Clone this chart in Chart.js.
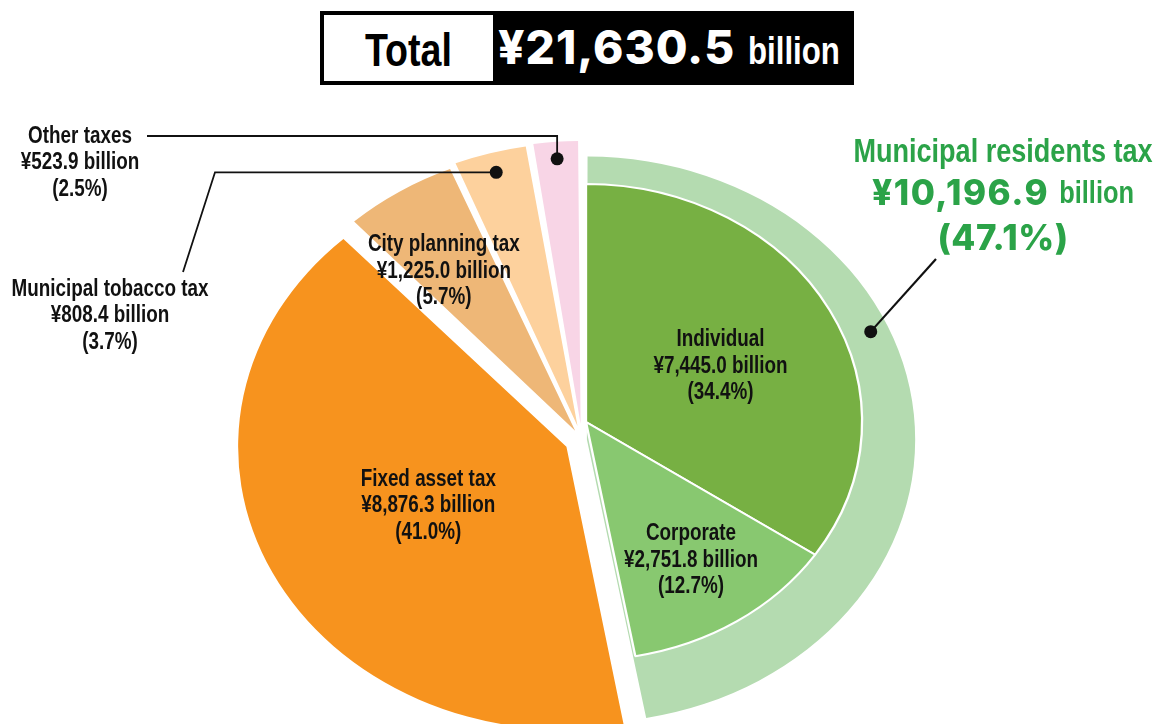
<!DOCTYPE html>
<html>
<head>
<meta charset="utf-8">
<script src="https://cdn.jsdelivr.net/npm/chart.js@4.4.1/dist/chart.umd.min.js"></script>
<style>
  body { margin: 0; background: #fff; }
  #wrap { position: relative; width: 1161px; height: 724px; }
  #total {
    position: absolute; left: 320px; top: 11px; width: 534px; height: 74px;
    border: 4px solid #000; box-sizing: border-box; display: flex; z-index: 2; overflow: hidden;
  }
  #total .label {
    flex: 0 0 169px; background: #fff; color: #000; text-align: center;
    font: bold 47px "Liberation Sans", Arial, sans-serif; line-height: 70px;
  }
  #total .value {
    flex: 1 1 auto; min-width: 0; background: #000; color: #fff; text-align: left;
    padding: 4px 0 0 5px; line-height: 75px; white-space: nowrap;
  }
  .narrow { display: inline-block; transform: scaleX(0.8); }
  #total .num { font: 800 46px Inter, "Open Sans", sans-serif; letter-spacing: 1px; }
  #total .unit { font: bold 39px "Liberation Sans", Arial, sans-serif; transform-origin: left center; margin-left: 13px; }
</style>
</head>
<body>
<div id="wrap">
  <canvas id="taxChart"></canvas>
  <div id="total"><div class="label"><span class="narrow">Total</span></div><div class="value"><span class="num" id="totalNum"></span><span class="unit narrow">billion</span></div></div>
</div>
<script>
// values in billions of yen
const taxNames = ['Municipal residents tax', 'Fixed asset tax', 'City planning tax', 'Municipal tobacco tax', 'Other taxes'];
const taxValues = [10196.9, 8876.3, 1225.0, 808.4, 523.9];
const taxPercents = [47.1, 41.0, 5.7, 3.7, 2.5];

const residentNames = ['Individual', 'Corporate'];
const residentValues = [7445.0, 2751.8];
const residentPercents = [34.4, 12.7];

const taxColors = ['#b4dbb0', '#f7931e', '#eeb777', '#fdd19d', '#f8d5e6'];
const residentColors = ['#77b043', '#88c870'];
const taxOffsets = [17, 60, 44, 58, 64];

const SANS = '"Liberation Sans", Arial, sans-serif';
const HEAVY = 'Inter, "Open Sans", sans-serif';
const GREEN = '#2ba348';
const NARROW_X = 0.82;    // squeeze for the condensed look

const SX = 1.16;          // horizontal stretch of the pie
const PIE_R = 283;
const INNER_R = 238;
const innerShift = [4, -18];

const fmtMoney = v => '¥' + v.toLocaleString('en-US', {minimumFractionDigits: 1, maximumFractionDigits: 1});
const fmtPct = p => '(' + p.toFixed(1) + '%)';

const total = taxValues.reduce((a, b) => a + b, 0);
document.getElementById('totalNum').textContent = fmtMoney(total);

function shiftFor(index) {
  return index === 0 ? innerShift : [0, 0];
}

// stretch the pie into an ellipse, let the inner ring be a full pie drawn on top
const pieShape = {
  id: 'pieShape',
  afterDatasetUpdate(chart, args) {
    const r = args.index === 0 ? INNER_R : PIE_R;
    args.meta.data.forEach(arc => {
      const t = (arc.options.offset || 0) / 4;
      const fix = 1 - Math.sin(Math.min(Math.PI, arc.circumference));
      arc.innerRadius = 0;
      arc.outerRadius = r - t * fix;
    });
  },
  beforeDatasetDraw(chart, args) {
    const {x, y} = args.meta.data[0];
    const [dx, dy] = shiftFor(args.index);
    const ctx = chart.ctx;
    ctx.save();
    ctx.translate(x + dx, y + dy);
    ctx.scale(SX, 1);
    ctx.translate(-x, -y);
  },
  afterDatasetDraw(chart) {
    chart.ctx.restore();
  }
};

function arcPoint(chart, dsIndex, i, angleFrac, radius) {
  const arc = chart.getDatasetMeta(dsIndex).data[i];
  const t = (arc.options.offset || 0) / 4;
  const mid = (arc.startAngle + arc.endAngle) / 2;
  const a = arc.startAngle + angleFrac * (arc.endAngle - arc.startAngle);
  const px = Math.cos(mid) * t + Math.cos(a) * radius;
  const py = Math.sin(mid) * t + Math.sin(a) * radius;
  const [dx, dy] = shiftFor(dsIndex);
  return {x: arc.x + dx + SX * px, y: arc.y + dy + py};
}

// condensed text: squeeze horizontally around the anchor
function condText(ctx, s, x, y) {
  ctx.save();
  ctx.translate(x, y);
  ctx.scale(NARROW_X, 1);
  ctx.fillText(s, 0, 0);
  ctx.restore();
}

function drawBlock(ctx, lines, x, y, lh) {
  ctx.fillStyle = '#111';
  ctx.font = 'bold 23px ' + SANS;
  ctx.textAlign = 'center';
  ctx.textBaseline = 'middle';
  lines.forEach((s, k) => condText(ctx, s, x, y + (k - 1) * lh));
}

const labels = {
  id: 'labels',
  afterDraw(chart) {
    const ctx = chart.ctx;
    ctx.save();

    // labels inside the slices
    const inside = [
      [0, 0, residentNames[0], residentValues[0], residentPercents[0], 0.52, 0.54 * INNER_R],
      [0, 1, residentNames[1], residentValues[1], residentPercents[1], 0.5, 0.695 * INNER_R],
      [1, 1, taxNames[1], taxValues[1], taxPercents[1], 0.5, 0.47 * PIE_R],
      [1, 2, taxNames[2], taxValues[2], taxPercents[2], 0.35, 0.69 * PIE_R]
    ];
    inside.forEach(([ds, i, name, v, p, af, r]) => {
      const c = arcPoint(chart, ds, i, af, r);
      drawBlock(ctx, [name, fmtMoney(v) + ' billion', fmtPct(p)], c.x, c.y, 26.5);
    });

    // callouts
    ctx.strokeStyle = '#111';
    ctx.lineWidth = 1.8;
    const dot = p => { ctx.fillStyle = '#111'; ctx.beginPath(); ctx.arc(p.x, p.y, 6.5, 0, Math.PI * 2); ctx.fill(); };

    const other = arcPoint(chart, 1, 4, 0.5, 0.94 * PIE_R);
    ctx.beginPath(); ctx.moveTo(other.x, other.y); ctx.lineTo(other.x, 136); ctx.lineTo(147, 136); ctx.stroke();
    dot(other);
    drawBlock(ctx, [taxNames[4], fmtMoney(taxValues[4]) + ' billion', fmtPct(taxPercents[4])], 80, 163, 26.5);

    const tob = arcPoint(chart, 1, 3, 0.5, 0.93 * PIE_R);
    ctx.beginPath(); ctx.moveTo(tob.x, tob.y); ctx.lineTo(215, tob.y); ctx.lineTo(183, 272); ctx.stroke();
    dot(tob);
    drawBlock(ctx, [taxNames[3], fmtMoney(taxValues[3]) + ' billion', fmtPct(taxPercents[3])], 110, 316, 26.5);

    const res = arcPoint(chart, 1, 0, 0.39, 0.945 * PIE_R);
    ctx.lineWidth = 2.2;
    ctx.beginPath(); ctx.moveTo(res.x, res.y); ctx.lineTo(936, 259); ctx.stroke();
    dot(res);

    // municipal residents tax title in green
    ctx.fillStyle = GREEN;
    ctx.textAlign = 'center';
    ctx.textBaseline = 'middle';
    ctx.font = 'bold 33px ' + SANS;
    condText(ctx, taxNames[0], 1003, 153);

    const num = fmtMoney(taxValues[0]);
    ctx.font = '800 35px ' + HEAVY;
    ctx.letterSpacing = '1.5px';
    const w1 = ctx.measureText(num).width + 10;
    ctx.letterSpacing = '0px';
    ctx.font = 'bold 31px ' + SANS;
    const w2 = ctx.measureText('billion').width * NARROW_X;
    const x0 = 1003 - (w1 + w2) / 2;
    ctx.textAlign = 'left';
    ctx.font = '800 35px ' + HEAVY;
    ctx.letterSpacing = '1.5px';
    ctx.fillText(num, x0, 194);
    ctx.letterSpacing = '0px';
    ctx.font = 'bold 31px ' + SANS;
    condText(ctx, 'billion', x0 + w1, 194);

    ctx.textAlign = 'center';
    ctx.font = '800 35px ' + HEAVY;
    ctx.letterSpacing = '0.5px';
    ctx.fillText(fmtPct(taxPercents[0]), 1003, 239);
    ctx.letterSpacing = '0px';

    ctx.restore();
  }
};

const ctx = document.getElementById('taxChart').getContext('2d');
const taxChart = new Chart(ctx, {
  type: 'pie',
  data: {
    labels: residentNames.concat(taxNames.slice(1)),
    datasets: [
      {
        // residents tax split, drawn on top of the main pie
        label: 'Municipal residents tax',
        data: residentValues.concat(taxValues.slice(1)),
        backgroundColor: residentColors.concat(['rgba(0,0,0,0)', 'rgba(0,0,0,0)', 'rgba(0,0,0,0)', 'rgba(0,0,0,0)']),
        borderColor: '#fff',
        borderWidth: [2, 2, 0, 0, 0, 0],
        offset: 0
      },
      {
        label: 'Municipal taxes',
        data: taxValues,
        backgroundColor: taxColors,
        borderWidth: 0,
        offset: taxOffsets
      }
    ]
  },
  options: {
    responsive: true,
    maintainAspectRatio: false,
    animation: false,
    events: [],
    layout: {
      padding: {top: 156, right: 0, bottom: 0, left: 3}
    },
    plugins: {
      legend: {display: false},
      tooltip: {enabled: false},
      title: {display: false}
    }
  },
  plugins: [pieShape, labels]
});
</script>
</body>
</html>
